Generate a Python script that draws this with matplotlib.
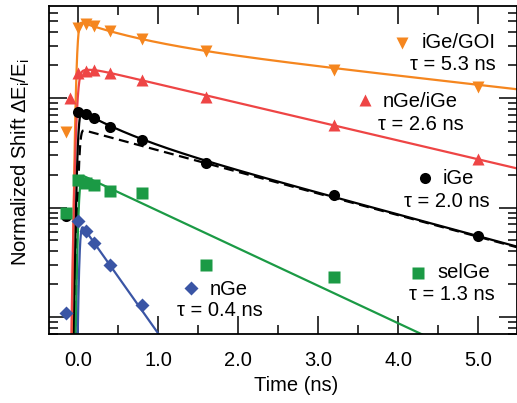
import math
import numpy as np
import matplotlib
matplotlib.use("Agg")
import matplotlib.pyplot as plt
from matplotlib.ticker import MultipleLocator, LogLocator, NullFormatter, FormatStrFormatter

plt.rcParams['font.family'] = ['Liberation Sans', 'DejaVu Sans']
plt.rcParams['mathtext.fontset'] = 'custom'
plt.rcParams['mathtext.rm'] = 'Liberation Sans'
plt.rcParams['mathtext.it'] = 'Liberation Sans:italic'

# ---------------- data ----------------
t_igegoi = [-0.15, 0.0, 0.1, 0.2, 0.4, 0.8, 1.6, 3.2, 5.0]
y_igegoi = [49, 436, 474, 455, 409, 346, 269, 180, 126]

t_ngeige = [-0.1, 0.0, 0.1, 0.2, 0.4, 0.8, 1.6, 3.2, 5.0]
y_ngeige = [101, 168, 178, 180, 170, 146, 103, 56.7, 27.5]

t_ige = [-0.15, 0.0, 0.1, 0.2, 0.4, 0.8, 1.6, 3.2, 5.0]
y_ige = [8.4, 74.5, 70.7, 65.6, 54.3, 41.3, 25.5, 13.0, 5.49]

t_selge = [-0.15, 0.0, 0.1, 0.2, 0.4, 0.8, 1.6, 3.2]
y_selge = [8.9, 17.8, 16.8, 15.9, 14.2, 13.6, 2.98, 2.33]

t_nge = [-0.15, 0.0, 0.1, 0.2, 0.4, 0.8]
y_nge = [1.09, 7.58, 6.14, 4.71, 2.98, 1.29]

# fit parameters: fast amp, fast tau, slow amp, slow tau, onset, rise width
fit_igegoi = [159, 0.7, 343, 5.23, -0.01, 0.03]
fit_ngeige = [-30, 0.1, 199, 2.53, -0.01, 0.04]
fit_ige = [25.3, 0.5, 53.2, 2.2, 0.0, 0.03]
fit_ige_dashed = [0.0, 1.0, 52.5, 2.2, 0.015, 0.03]
fit_selge = [0.0, 1.0, 20.5, 1.27, 0.01, 0.03]
fit_nge = [0.0, 1.0, 7.7, 0.42, 0.02, 0.025]

labels = ['iGe/GOI', 'nGe/iGe', 'iGe', 'selGe', 'nGe']
tau_labels = ['\u03c4 = 5.3 ns', '\u03c4 = 2.6 ns', '\u03c4 = 2.0 ns',
              '\u03c4 = 1.3 ns', '\u03c4 = 0.4 ns']
xtick_values = [0, 1, 2, 3, 4, 5]

# ---------------- style ----------------
c_orange = '#F5861F'
c_red = '#EE4545'
c_black = '#000000'
c_green = '#1B9A45'
c_blue = '#3A55A5'

W, H = 517, 403
fig = plt.figure(figsize=(W / 100, H / 100), dpi=100)
AX_L, AX_R, AX_T, AX_B = 49, 516.5, 6, 334
ax = fig.add_axes([AX_L / W, 1 - AX_B / H, (AX_R - AX_L) / W, (AX_B - AX_T) / H])


def fitcurve(t, p):
    af, tf, as_, ts, t0, w = p
    rise = 0.5 * (1 + np.array([math.erf((v - t0) / w) for v in t]))
    return (af * np.exp(-t / tf) + as_ * np.exp(-t / ts)) * rise


tt = np.linspace(-0.36, 5.5, 4000)
lw = 1.6
ax.plot(tt, fitcurve(tt, fit_igegoi), color=c_orange, lw=lw, zorder=2)
ax.plot(tt, fitcurve(tt, fit_ngeige), color=c_red, lw=lw, zorder=2)
ax.plot(tt, fitcurve(tt, fit_ige_dashed), color=c_black, lw=lw, ls=(0, (4.5, 2.5)), zorder=2)
ax.plot(tt, fitcurve(tt, fit_ige), color=c_black, lw=lw, zorder=2)
ax.plot(tt, fitcurve(tt, fit_selge), color=c_green, lw=lw, zorder=2)
ax.plot(tt, fitcurve(tt, fit_nge), color=c_blue, lw=lw, zorder=2)

ax.plot(t_igegoi, y_igegoi, 'v', color=c_orange, ms=8.5, mec='none', zorder=3)
ax.plot(t_ngeige, y_ngeige, '^', color=c_red, ms=8.5, mec='none', zorder=3)
ax.plot(t_ige, y_ige, 'o', color=c_black, ms=8, mec='none', zorder=3)
ax.plot(t_selge, y_selge, 's', color=c_green, ms=8, mec='none', zorder=3)
ax.plot(t_nge, y_nge, 'D', color=c_blue, ms=6.8, mec='none', zorder=3)

ax.set_yscale('log')
ax.set_xlim(-0.3625, 5.48)
ax.set_ylim(0.70, 692)

ax.xaxis.set_major_locator(matplotlib.ticker.FixedLocator(xtick_values))
ax.xaxis.set_minor_locator(MultipleLocator(0.5))
ax.xaxis.set_major_formatter(FormatStrFormatter('%.1f'))
ax.yaxis.set_major_locator(LogLocator(base=10, numticks=10))
ax.yaxis.set_minor_locator(LogLocator(base=10, subs=np.arange(2, 10), numticks=20))
ax.yaxis.set_major_formatter(NullFormatter())
ax.yaxis.set_minor_formatter(NullFormatter())

ax.tick_params(which='both', direction='in', top=True, right=True, width=1.1,
               color='black')
ax.tick_params(which='major', length=13)
ax.tick_params(which='minor', length=6.5)
ax.tick_params(axis='x', which='major', labelsize=14.5, pad=12)
for s in ax.spines.values():
    s.set_linewidth(1.3)

ax.set_xlabel('Time (ns)', fontsize=14.5)
ax.xaxis.set_label_coords(0.529, -0.128)
ax.set_ylabel(r'Normalized Shift $\mathregular{\Delta E_i/E_i}$', fontsize=14.5)
ax.yaxis.set_label_coords(-0.036, 0.524)


def frac(px, py):
    return ((px - AX_L) / (AX_R - AX_L), (AX_B - py) / (AX_B - AX_T))


leg_markers = [('v', c_orange, 8.5, (401.7, 42.7)),
               ('^', c_red, 8.5, (365, 100)),
               ('o', c_black, 8, (425, 178.3)),
               ('s', c_green, 8, (418.3, 272.7)),
               ('D', c_blue, 6.8, (190.7, 288.3))]
name_pos = [(458.7, 42.7), (420.5, 101.7), (458.5, 179), (463.3, 272.7), (228.3, 289.3)]
tau_pos = [(453, 64), (421, 125), (446.5, 201.7), (451.5, 295), (220, 311)]

for (m, c, ms, p), lab, npos, tl, tp in zip(leg_markers, labels, name_pos, tau_labels, tau_pos):
    fx, fy = frac(*p)
    ax.plot([fx], [fy], m, color=c, ms=ms, mec='none', transform=ax.transAxes,
            clip_on=False, zorder=4)
    nx, ny = frac(*npos)
    ax.text(nx, ny, lab, transform=ax.transAxes, ha='center', va='center', fontsize=14.5)
    tx, ty = frac(*tp)
    ax.text(tx, ty, tl, transform=ax.transAxes, ha='center', va='center', fontsize=14.5)

fig.savefig('out.png', dpi=100)
